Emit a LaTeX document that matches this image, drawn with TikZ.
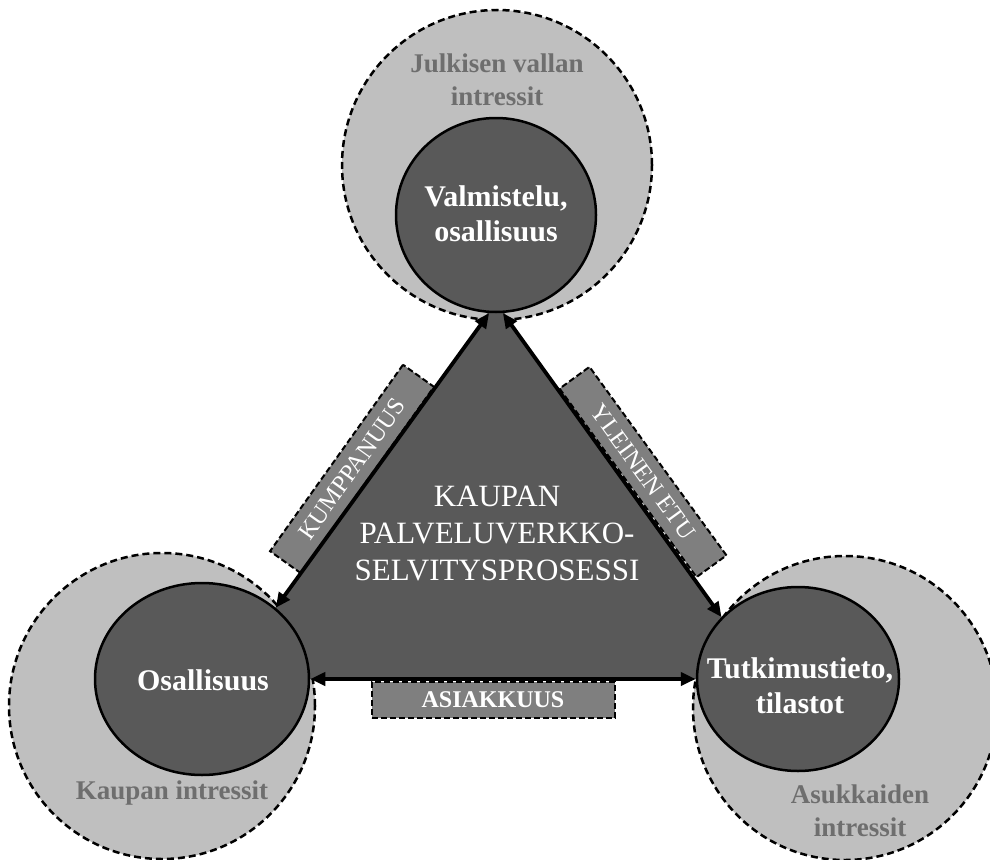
\documentclass[tikz,border=0pt]{standalone}
\usepackage{fontspec}
\setmainfont{Liberation Serif}
\usetikzlibrary{shapes.geometric,arrows.meta}
\definecolor{lightfill}{HTML}{BFBFBF}
\definecolor{darkfill}{HTML}{595959}
\definecolor{boxfill}{HTML}{7F7F7F}
\definecolor{labgray}{HTML}{6E6E6E}
\begin{document}
\begin{tikzpicture}[x=1pt,y=-1pt,
  outerc/.style={circle, draw=black, dash pattern=on 7pt off 4pt, line width=2.5pt, fill=lightfill, inner sep=0pt},
  innerc/.style={ellipse, draw=black, line width=2.5pt, fill=darkfill, inner sep=0pt},
  circtext/.style={text=white, font=\fontsize{30}{35}\selectfont\bfseries, align=center},
  outertext/.style={text=labgray, font=\fontsize{27}{33}\selectfont\bfseries, align=center},
  labelbox/.style={draw=black, dash pattern=on 6pt off 3pt, line width=2pt, fill=boxfill, text=white, inner sep=0pt, font=\fontsize{24.5}{26}\selectfont},
  arr/.style={line width=3.8pt, {Triangle[length=15pt,width=13pt]}-{Triangle[length=15pt,width=13pt]}}
]
\useasboundingbox (0,0) rectangle (990,859);
\clip (0,0) rectangle (990,859);

% outer circles
\node[outerc, minimum size=310pt] (otop) at (497,165) {};
\node[outerc, minimum size=306pt] (oleft) at (162,706) {};
\node[outerc, minimum size=304pt] (oright) at (845,708) {};

% label boxes
\node[labelbox, rotate=54.5, minimum width=229pt, minimum height=38pt] (kump) at (352,469) {KUMPPANUUS};
\node[labelbox, rotate=-54, minimum width=233pt, minimum height=37pt] (yleinen) at (643,472) {YLEINEN ETU};
\node[labelbox, minimum width=243pt, minimum height=36pt, font=\fontsize{24}{26}\selectfont\bfseries] (asiak) at (493,700) {ASIAKKUUS};

% triangle (edges follow the arrows)
\coordinate (tA1) at (489,311);
\coordinate (tA2) at (503,311);
\coordinate (tB) at (224,679);
\coordinate (tC) at (766,679);
\fill[darkfill] (tA1) -- (tB) -- (tC) -- (tA2) -- cycle;

% inner circles
\node[innerc, minimum width=200pt, minimum height=194pt] (valm) at (496,215) {};
\node[innerc, minimum width=214pt, minimum height=192pt] (osal) at (202,679) {};
\node[innerc, minimum width=202pt, minimum height=184pt] (tutk) at (798,679) {};

% arrows
\draw[arr] (valm.266) -- (osal.44);
\draw[arr] (valm.274) -- (tutk.141);
\draw[arr] (osal.east) -- (tutk.west);

% texts
\node[circtext] (valmt) at (496,214) {Valmistelu,\\osallisuus};
\node[circtext] (osalt) at (203,680) {Osallisuus};
\node[circtext] (tutkt) at (800,686) {Tutkimustieto,\\tilastot};
\node[outertext] (otopt) at (497,80) {Julkisen vallan\\intressit};
\node[outertext] (oleftt) at (172,793) {Kaupan intressit};
\node[outertext] (orightt) at (860,811) {Asukkaiden\\intressit};
\node[text=white, font=\fontsize{31}{37}\selectfont, align=center] (center) at (497,533) {KAUPAN\\PALVELUVERKKO-\\SELVITYSPROSESSI};
\end{tikzpicture}
\end{document}
